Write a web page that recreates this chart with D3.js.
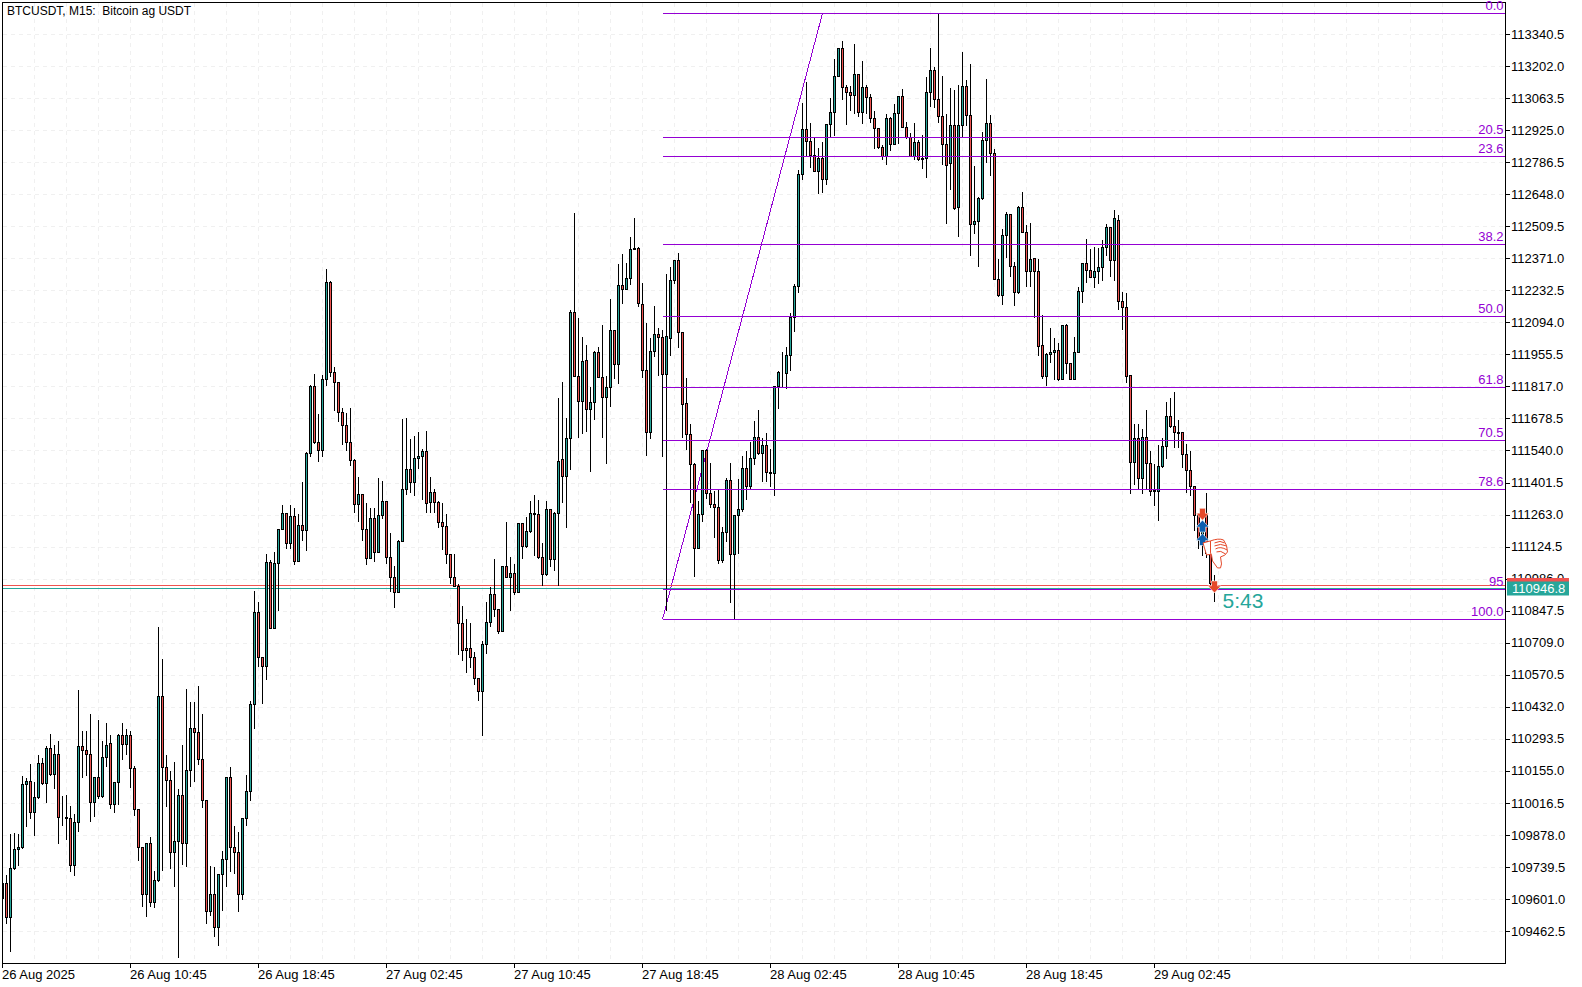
<!DOCTYPE html>
<html>
<head>
<meta charset="utf-8">
<title>BTCUSDT M15</title>
<script src="https://cdn.jsdelivr.net/npm/d3@7/dist/d3.min.js"></script>
<style>
html,body{margin:0;padding:0;background:#fff;overflow:hidden}
text{font-family:"Liberation Sans",Arial,sans-serif}
</style>
</head>
<body>
<svg id="chart" width="1582" height="987"></svg>
<script>
const title = "BTCUSDT, M15:  Bitcoin ag USDT";
const opens = [
109604,109669,109525,109734,109816,109825,110097,110110,109976,110041,
110188,110101,110253,110140,110227,109957,109954,109950,109746,109933,
110261,110244,110227,110022,110127,110044,110214,110274,110011,110106,
110309,110273,110309,110166,109989,109825,109622,109842,109590,109682,
110478,110171,110114,109806,109851,110050,109845,110158,110339,110322,
110205,110028,109551,109622,109479,109708,109773,110127,109825,109806,
109622,109950,110067,110442,110841,110649,110610,111057,110772,111053,
111200,111269,111138,111256,111060,111217,111195,111528,111819,111575,
111540,111847,112267,111881,111834,111708,111651,111575,111497,111308,
111351,111202,111074,111247,111099,111260,111321,111081,110995,110926,
111148,111372,111458,111405,111509,111517,111536,111316,111359,111316,
111230,111215,111091,110991,110956,110793,110685,110685,110649,110555,
110502,110702,110797,110919,110854,110761,111040,110995,111009,110926,
111225,111125,111191,111269,111267,111081,111005,111286,111070,111269,
111502,111431,111595,112137,111862,111755,111930,111721,111748,111964,
111859,111770,111816,112059,111915,112254,112237,112284,112409,112414,
112172,111886,111621,111968,112042,112029,111872,112025,112275,112362,
112051,111744,111610,111480,111117,111264,111540,111355,111310,111294,
111065,111189,111411,111091,111259,111285,111463,111388,111509,111597,
111528,111562,111448,111441,111817,111873,111873,111951,112118,112252,
112734,112929,112877,112816,112750,112804,112713,112951,113002,113158,
113279,113110,113089,113076,113167,113002,113110,113067,112976,112933,
112851,112815,112976,112864,112998,113072,112938,112894,112814,112873,
112804,112804,113089,113184,113059,112985,112867,112782,112946,112592,
112946,113115,112989,112518,112531,112631,112881,112955,112828,112280,
112211,112471,112561,112337,112224,112592,112484,112315,112371,112316,
111995,111860,111956,111965,111973,111848,112082,111917,111848,111965,
112229,112350,112319,112289,112315,112332,112419,112505,112363,112535,
112185,112159,111865,111492,111593,111423,111597,111485,111368,111365,
111472,111558,111689,111645,111619,111619,111524,111455,111388,111263,
111139,111263,111100,110963];
const highs = [
109669,109709,109885,109890,109888,110137,110130,110188,110109,110228,
110214,110267,110318,110270,110289,110051,110055,110008,109972,110509,
110332,110332,110404,110130,110378,110289,110367,110313,110110,110318,
110365,110339,110332,110181,109989,109825,109842,109874,109727,110782,
110642,110228,110159,110198,110080,110270,110512,110457,110457,110527,
110404,110034,109748,109744,109708,109813,110127,110176,109921,109893,
109950,110142,110462,110937,110890,110649,111096,111070,111106,111200,
111309,111269,111308,111297,111269,111408,111538,111826,111873,111700,
111870,112329,112277,111905,111834,111726,111708,111726,111509,111430,
111351,111319,111295,111295,111424,111413,111321,111188,111045,111158,
111679,111683,111592,111607,111624,111549,111628,111430,111377,111326,
111316,111269,111096,111096,110966,110872,110815,110797,110671,110555,
110721,110890,110952,111074,110854,111040,111233,111084,111053,111225,
111225,111257,111326,111352,111331,111146,111326,111290,111280,111770,
111840,111683,112150,112571,112115,112035,112000,111819,111974,111992,
112087,111866,112198,112059,112350,112392,112355,112467,112549,112425,
112267,112094,112029,112169,112072,112065,112306,112337,112366,112396,
112051,111856,111657,111491,111326,111540,111549,111489,111369,111376,
111213,111424,111489,111259,111419,111520,111542,111582,111670,111719,
111597,111620,111549,111817,111888,111970,111992,112137,112265,112756,
113048,113138,112961,112900,112854,112878,112951,113069,113236,113286,
113315,113123,113121,113302,113167,113229,113123,113084,113012,112933,
112865,112998,112984,113041,113072,113106,112965,112917,112962,112886,
112907,113159,113283,113200,113430,113164,112998,113110,113103,113125,
113268,113146,113214,112775,112641,112922,113149,112995,112847,112371,
112501,112576,112561,112357,112600,112662,112518,112527,112371,112371,
112129,111965,112074,112031,112011,112082,112092,111924,112035,112253,
112352,112458,112414,112425,112419,112453,112522,112505,112583,112561,
112229,112224,111865,111658,111658,111636,111718,111542,111485,111567,
111597,111754,111770,111797,111675,111619,111571,111540,111388,111276,
111225,111359,111124,111006];
const lows = [
109604,109499,109378,109730,109748,109820,109917,109950,109878,110037,
110099,110022,110137,110080,109845,109921,109861,109722,109705,109893,
110130,110137,109940,109960,110037,110041,110178,109996,109975,110012,
110205,110227,110087,109965,109770,109571,109528,109571,109568,109679,
109727,110003,109737,109655,109349,109753,109744,110090,110109,110185,
109998,109499,109532,109441,109400,109554,109659,109724,109712,109547,
109601,109921,110029,110339,110610,110447,110553,110772,110772,110851,
111200,111120,111117,111050,111060,111153,111110,111516,111574,111496,
111516,111823,111862,111715,111669,111568,111542,111479,111276,111233,
111151,111050,111074,111064,111099,111246,111055,110934,110865,110926,
111148,111352,111362,111347,111463,111329,111273,111273,111276,111207,
111114,111055,110966,110956,110661,110635,110584,110606,110531,110462,
110310,110663,110782,110825,110750,110761,110995,110851,110920,110926,
111074,111122,111188,111089,111077,110959,111002,111041,111024,110959,
111319,111208,111460,111862,111600,111617,111624,111453,111676,111859,
111600,111487,111734,111855,111833,112179,112237,112260,112409,112164,
111859,111520,111595,111948,111866,111516,110850,111953,112265,111989,
111600,111546,111319,110999,111117,111236,111336,111294,111167,111052,
111059,111150,110883,110811,111095,111280,111332,111373,111481,111525,
111409,111409,111388,111347,111725,111819,111808,111888,112058,112227,
112714,112818,112767,112749,112655,112659,112693,112897,112904,113157,
113060,112952,113012,112998,112984,112955,112998,112962,112847,112847,
112799,112778,112840,112864,112871,112938,112890,112814,112799,112796,
112763,112724,113030,113024,112958,112779,112523,112671,112583,112469,
112894,112946,112386,112482,112339,112628,112789,112731,112280,112208,
112173,112378,112295,112169,112222,112484,112249,112249,112118,111953,
111855,111824,111924,111850,111844,111848,111873,111848,111848,111965,
112184,112267,112289,112246,112263,112275,112386,112296,112275,112151,
112066,111838,111358,111395,111377,111355,111377,111348,111305,111240,
111467,111506,111643,111557,111557,111467,111362,111348,111197,111117,
111088,111081,110963,110891];
const closes = [
109669,109525,109734,109816,109825,110097,110110,109976,110041,110188,
110101,110253,110140,110227,109957,109954,109950,109746,109933,110261,
110244,110227,110022,110127,110044,110214,110266,110011,110106,110309,
110273,110309,110166,109989,109825,109622,109842,109590,109682,110478,
110171,110114,109806,109851,110050,109845,110158,110339,110322,110205,
110028,109551,109622,109479,109708,109773,110127,109825,109806,109622,
109950,110067,110443,110841,110649,110610,111057,110772,111053,111200,
111269,111138,111256,111060,111217,111195,111528,111819,111575,111540,
111847,112267,111881,111834,111708,111651,111575,111497,111307,111351,
111202,111074,111247,111099,111260,111321,111081,110995,110926,111148,
111372,111458,111405,111509,111517,111536,111314,111359,111316,111230,
111215,111091,110991,110956,110793,110678,110678,110649,110555,110502,
110702,110797,110919,110854,110760,111040,110995,111009,110926,111225,
111125,111191,111269,111267,111081,111005,111286,111070,111269,111494,
111431,111595,112137,111862,111755,111927,111721,111748,111964,111859,
111770,111816,112059,111915,112254,112237,112284,112409,112414,112176,
111886,111621,111968,112042,112029,111872,112033,112275,112362,112051,
111742,111610,111480,111117,111264,111540,111355,111310,111294,111065,
111189,111411,111091,111259,111285,111463,111388,111506,111597,111528,
111562,111448,111441,111817,111878,111876,111951,112118,112249,112736,
112929,112877,112816,112750,112804,112713,112951,113002,113158,113279,
113110,113089,113076,113167,113002,113110,113067,112976,112933,112851,
112815,112976,112864,112998,113072,112938,112894,112814,112873,112799,
112799,113089,113184,113059,112984,112867,112773,112946,112590,112946,
113115,112989,112518,112531,112631,112881,112955,112828,112280,112211,
112471,112561,112337,112224,112592,112484,112315,112367,112315,111993,
111860,111956,111965,111973,111848,112082,111917,111848,111965,112229,
112350,112319,112289,112315,112332,112419,112505,112363,112544,112185,
112159,111864,111492,111593,111423,111597,111485,111365,111365,111472,
111558,111689,111645,111619,111617,111524,111455,111388,111263,111160,
111211,111096,110966,110946.8];
const priceTicks = [113340.5,113202.0,113063.5,112925.0,112786.5,112648.0,112509.5,112371.0,112232.5,112094.0,111955.5,111817.0,111678.5,111540.0,111401.5,111263.0,111124.5,110986.0,110847.5,110709.0,110570.5,110432.0,110293.5,110155.0,110016.5,109878.0,109739.5,109601.0,109462.5];
const timeBars = [0,32,64,96,128,160,192,224,256,288];
const timeLabels = ["26 Aug 2025","26 Aug 10:45","26 Aug 18:45","27 Aug 02:45","27 Aug 10:45","27 Aug 18:45","28 Aug 02:45","28 Aug 10:45","28 Aug 18:45","29 Aug 02:45"];
const gridBars = d3.range(8, 368, 8);
const fibHigh = 113430, fibLow = 110810;
const fibLevels = [0,20.5,23.6,38.2,50,61.8,70.5,78.6,95,100];
const fibLabels = ["0.0","20.5","23.6","38.2","50.0","61.8","70.5","78.6","95","100.0"];
const fibStartBar = 165, fibEndBar = 205;
const bidPrice = 110946.8, askPrice = 110957;
const countdown = "5:43";
const markerBars = [300,300,300,303];
const markerPrices = [111264,111213,111155,110950];
const markerDirs = ["down","up","up","down"];

const UP="#26a69a", DOWN="#ef5350", VIOLET="#9400d3", GRID="#f0f0f0", ORANGE="#e5492a", BLUE="#0d5fb0";
const L=2.5,T=2.5,R=1505.5,B=963.5;
const x=d3.scaleLinear().domain([0,303]).range([2.5,1214.5]);
const y=d3.scaleLinear().domain([113340.5,109462.5]).range([34,931]);
const py=p=>Math.round(y(p))+0.5;
const fy=p=>Math.floor(y(p))+0.5;
const fibPrice=l=>fibHigh-(fibHigh-fibLow)*l/100;

const svg=d3.select("#chart");
svg.append("defs").append("clipPath").attr("id","plot").append("rect").attr("x",L).attr("y",T).attr("width",R-L).attr("height",B-T);
const plot=svg.append("g").attr("clip-path","url(#plot)").attr("shape-rendering","crispEdges");

// grid
plot.append("g").selectAll("line").data(priceTicks).join("line")
 .attr("x1",L).attr("x2",R).attr("y1",py).attr("y2",py)
 .attr("stroke",GRID).attr("stroke-dasharray","4 4");
plot.append("g").selectAll("line").data(gridBars).join("line")
 .attr("x1",d=>x(d)).attr("x2",d=>x(d)).attr("y1",T).attr("y2",B)
 .attr("stroke",GRID).attr("stroke-dasharray","4 4");

// trend line under candles
plot.append("line")
 .attr("x1",x(fibStartBar)).attr("y1",y(fibLow)).attr("x2",x(fibEndBar)).attr("y2",y(fibHigh))
 .attr("stroke",VIOLET);

// ask / bid lines
plot.append("line").attr("x1",L).attr("x2",R).attr("y1",py(askPrice)).attr("y2",py(askPrice)).attr("stroke",DOWN);
plot.append("line").attr("x1",L).attr("x2",R).attr("y1",py(bidPrice)).attr("y2",py(bidPrice)).attr("stroke",UP);

// candles
const idx=d3.range(opens.length);
const candles=plot.append("g");
candles.selectAll("line").data(idx).join("line")
 .attr("x1",i=>x(i)).attr("x2",i=>x(i))
 .attr("y1",i=>py(highs[i])).attr("y2",i=>py(lows[i]))
 .attr("stroke","#000");
candles.selectAll("rect").data(idx).join("rect")
 .attr("x",i=>x(i)-1).attr("width",2)
 .attr("y",i=>py(Math.max(opens[i],closes[i])))
 .attr("height",i=>Math.max(0,py(Math.min(opens[i],closes[i]))-py(Math.max(opens[i],closes[i]))))
 .attr("fill",i=>closes[i]>=opens[i]?UP:DOWN)
 .attr("stroke","#000");

// fibo lines
plot.append("g").selectAll("line").data(fibLevels).join("line")
 .attr("x1",x(fibStartBar)).attr("x2",R)
 .attr("y1",l=>fy(fibPrice(l))).attr("y2",l=>fy(fibPrice(l)))
 .attr("stroke",VIOLET);

// axes
const yAxis=d3.axisRight(y).tickValues(priceTicks).tickFormat(d3.format(".1f")).tickSize(5).tickPadding(1);
const gy=svg.append("g").attr("transform",`translate(${R-0.5},0)`).call(yAxis);
gy.select(".domain").remove();
gy.selectAll("line").attr("stroke","#000").attr("shape-rendering","crispEdges");
gy.selectAll("text").attr("font-size",13).attr("fill","#000").style("font-family",'"Liberation Sans"');

const xAxis=d3.axisBottom(x).tickValues(timeBars).tickFormat((d,i)=>timeLabels[i]).tickSize(5).tickPadding(0);
const gx=svg.append("g").attr("transform",`translate(-0.5,${B-0.5})`).call(xAxis);
gx.select(".domain").remove();
gx.selectAll("line").attr("stroke","#000").attr("shape-rendering","crispEdges");
gx.selectAll("text").attr("text-anchor","start").attr("x",-0.5).attr("dy","0.71em").attr("y",7).attr("font-size",13).attr("fill","#000").style("font-family",'"Liberation Sans"');

// frame
svg.append("rect").attr("x",L).attr("y",T).attr("width",R-L).attr("height",B-T)
 .attr("fill","none").attr("stroke","#000").attr("shape-rendering","crispEdges");

// title
svg.append("text").attr("x",7).attr("y",15).attr("font-size",12).attr("fill","#000").attr("xml:space","preserve").style("white-space","pre").text(title);

// fibo labels
svg.append("g").selectAll("text").data(fibLevels).join("text")
 .attr("x",R-2).attr("y",l=>fy(fibPrice(l))-3.5).attr("text-anchor","end")
 .attr("font-size",13).attr("fill",VIOLET).text((l,i)=>fibLabels[i]);

// price labels
svg.append("rect").attr("x",1507).attr("y",py(bidPrice)-10.5).attr("width",62).attr("height",4).attr("fill",DOWN);
svg.append("rect").attr("x",1507).attr("y",py(bidPrice)-7).attr("width",62).attr("height",14).attr("fill",UP);
svg.append("text").attr("x",1512).attr("y",py(bidPrice)+4.5).attr("font-size",13).attr("fill","#fff").text(bidPrice.toFixed(1));

// countdown
svg.append("text").attr("x",x(303)+8).attr("y",y(bidPrice)+20).attr("font-size",21).attr("fill",UP).text(countdown);

// arrows
const arrowPath="M-3,-6 H3 V-1 H6.5 L0,6 L-6.5,-1 H-3 Z";
svg.append("g").selectAll("path").data(markerBars).join("path")
 .attr("d",arrowPath)
 .attr("transform",(d,i)=>`translate(${x(d)},${y(markerPrices[i])}) ${markerDirs[i]==="up"?"scale(1,-1)":""}`)
 .attr("fill",(d,i)=>markerDirs[i]==="up"?BLUE:ORANGE)
 .attr("stroke","#fff").attr("stroke-width",0.6);

// thumbs-down sign
const th=svg.append("g").attr("transform",`translate(${x(303)+1},${y(markerPrices[3])})`)
 .attr("fill","#fff").attr("stroke",ORANGE).attr("stroke-width",1);
th.append("path").attr("d","M-12.5,-44 L-5,-46 L-2,-33 L-9,-32 Z");
th.append("path").attr("d","M-5,-46 Q3,-49 8,-47 Q12,-42 12,-35 Q10,-31 5,-30 L6,-23 L5,-19 L2,-19 L-3,-26 L-4,-32 L-5,-34 Z");
th.append("path").attr("fill","none").attr("d","M-1,-44 Q5,-47 9,-44 M-1,-41 Q5,-44 11,-41 M0,-38 Q5,-41 11.5,-37 M1,-35 Q5,-37 10,-33");
</script>
</body>
</html>
